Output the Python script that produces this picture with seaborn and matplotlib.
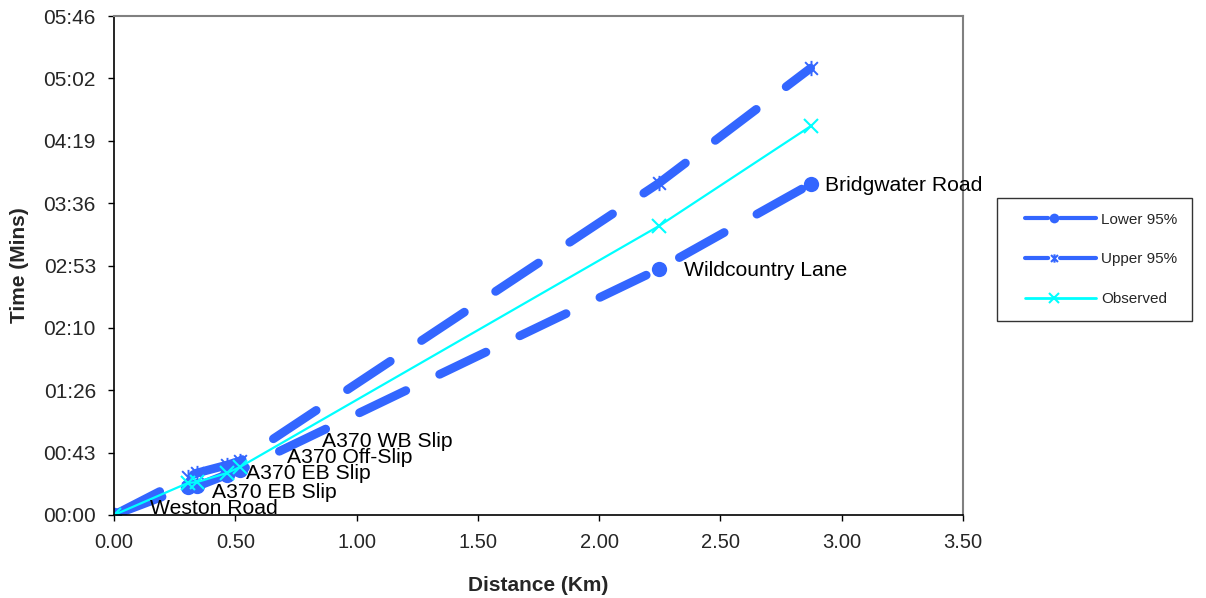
import matplotlib
matplotlib.use("Agg")
import matplotlib.pyplot as plt
import seaborn as sns
import numpy as np
from matplotlib.lines import Line2D
from matplotlib.path import Path

# ---- data ----
stations = ["Weston Road", "A370 EB Slip", "A370 EB Slip", "A370 Off-Slip",
            "A370 WB Slip", "Wildcountry Lane", "Bridgwater Road"]
distance_km = [0.00, 0.305, 0.342, 0.466, 0.519, 2.246, 2.872]
lower_s = [0.0, 19.4, 19.8, 28.0, 31.0, 170.3, 229.2]
upper_s = [0.0, 26.3, 29.1, 34.6, 37.4, 229.8, 309.5]
observed_s = [0.0, 22.2, 22.8, 29.1, 33.2, 200.1, 269.3]
x_ticks = [0.0, 0.5, 1.0, 1.5, 2.0, 2.5, 3.0, 3.5]
y_tick_labels = ["00:00", "00:43", "01:26", "02:10", "02:53", "03:36",
                 "04:19", "05:02", "05:46"]
series_names = ["Lower 95%", "Upper 95%", "Observed"]
# label offsets (points) for station labels on the lower series
label_offsets = [(26, 5), (17, -4), (35, 9), (43, 12), (59, 21), (18, -1), (10, -1)]

sns.set_style("white")
plt.rcParams['font.family'] = ['Liberation Sans', 'DejaVu Sans']
plt.rcParams['lines.scale_dashes'] = False

blue = "#3366FF"
cyan = "#00FFFF"

# asterisk-like star marker (x with a vertical bar)
star_path = Path(
    [(-1, -1), (1, 1), (-1, 1), (1, -1), (0, -1.2), (0, 1.2)],
    [Path.MOVETO, Path.LINETO, Path.MOVETO, Path.LINETO, Path.MOVETO, Path.LINETO])

fig = plt.figure(figsize=(12.06, 5.98), dpi=100)
ax = fig.add_axes([114 / 1206, 1 - 515 / 598, (963 - 114) / 1206, (515 - 16) / 598])

dash_pat = (0, (37, 27))

sns.lineplot(x=distance_km, y=lower_s, ax=ax, sort=False, estimator=None,
             color=blue, lw=6.3, marker='o', markersize=11,
             markeredgewidth=0)
ln = ax.lines[-1]
ln.set_linestyle(dash_pat)
ln.set_dash_capstyle('round')

sns.lineplot(x=distance_km, y=upper_s, ax=ax, sort=False, estimator=None,
             color=blue, lw=6.3, marker=star_path, markersize=11,
             markeredgewidth=1.4, markeredgecolor=blue, markerfacecolor='none')
ln = ax.lines[-1]
ln.set_linestyle(dash_pat)
ln.set_dash_capstyle('round')

sns.lineplot(x=distance_km, y=observed_s, ax=ax, sort=False, estimator=None,
             color=cyan, lw=1.6, marker='x', markersize=10,
             markeredgewidth=1.5, markeredgecolor=cyan)

for name, xv, yv, off in zip(stations, distance_km, lower_s, label_offsets):
    ax.annotate(name, (xv, yv), xytext=off, textcoords='offset points',
                ha='left', va='center', fontsize=15.2, color='black')

ax.set_xlim(0, 3.5)
ax.set_ylim(0, 43.2 * 8)
ax.set_xticks(x_ticks)
ax.set_xticklabels([f"{v:.2f}" for v in x_ticks])
ax.set_yticks([43.2 * i for i in range(len(y_tick_labels))])
ax.set_yticklabels(y_tick_labels)
ax.tick_params(axis='both', direction='out', length=4, width=1, color='black')
ax.tick_params(axis='x', labelsize=14.5, pad=9)
ax.tick_params(axis='y', labelsize=15, pad=9)
ax.xaxis.set_ticks_position('bottom')
ax.yaxis.set_ticks_position('left')
for s in ['left', 'bottom']:
    ax.spines[s].set_color('black')
    ax.spines[s].set_linewidth(1.2)
for s in ['top', 'right']:
    ax.spines[s].set_color('#808080')
    ax.spines[s].set_linewidth(1.5)

ax.set_xlabel("Distance (Km)", fontsize=15, fontweight='bold', labelpad=17)
ax.set_ylabel("Time (Mins)", fontsize=15, fontweight='bold', labelpad=10)

# legend handles: leading blank, then dash - gap (marker) - dash
leg_dash = (61.8, (16.6, 8.6, 26.0, 20.0))
leg_solid = (61.7, (51.1, 20.0))
handles = [
    Line2D([], [], color=blue, lw=3, linestyle=leg_dash, marker='o',
           markersize=7, markeredgewidth=0),
    Line2D([], [], color=blue, lw=3, linestyle=leg_dash, marker=star_path,
           markersize=6, markeredgewidth=1.5, markeredgecolor=blue,
           markerfacecolor='none'),
    Line2D([], [], color=cyan, lw=2, linestyle=leg_solid, marker='x',
           markersize=7, markeredgewidth=1.5, markeredgecolor=cyan),
]
leg = fig.legend(handles, series_names, loc='upper left',
                 bbox_to_anchor=(997 / 1206, 1 - 198 / 598), fontsize=11,
                 frameon=True, fancybox=False, edgecolor='black',
                 handlelength=5.5, handletextpad=0.35, labelspacing=1.7,
                 borderpad=0.95, borderaxespad=0, numpoints=1)
leg.get_frame().set_linewidth(1.0)
for h in leg.legend_handles:
    h.set_dash_capstyle('round')

fig.savefig("out.png", dpi=100)
